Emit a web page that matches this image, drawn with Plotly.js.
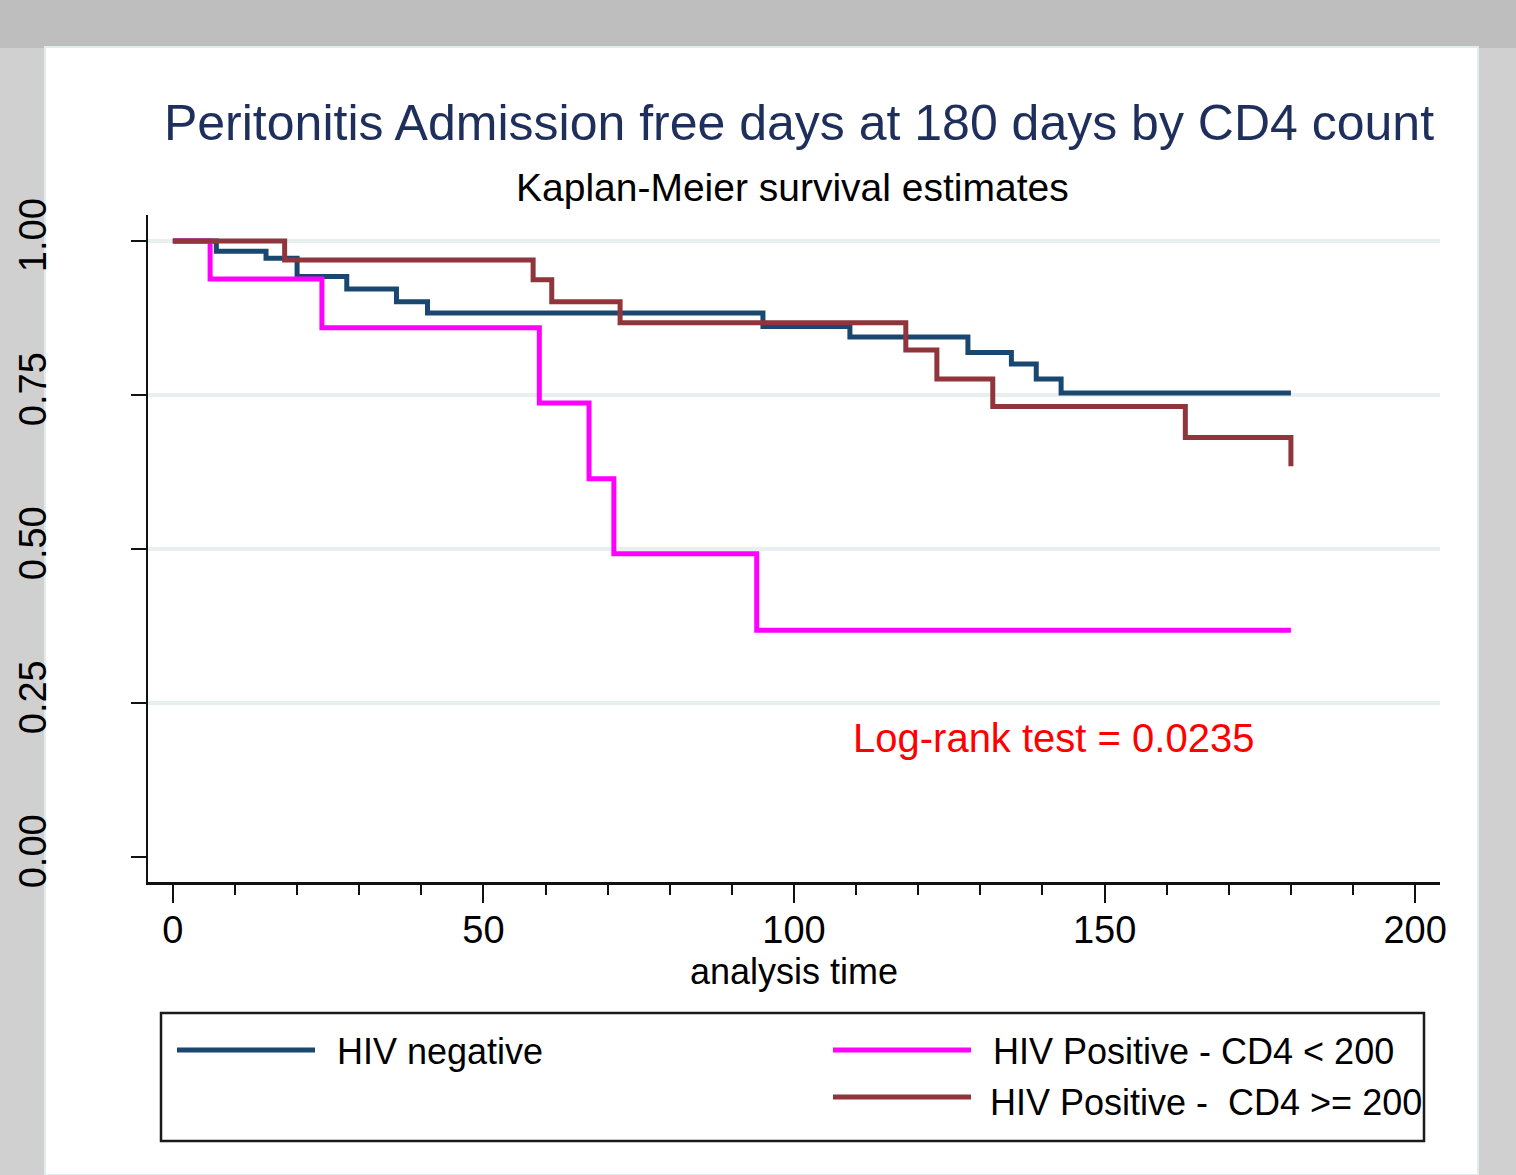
<!DOCTYPE html>
<html><head><meta charset="utf-8">
<script src="https://cdn.plot.ly/plotly-3.0.1.min.js"></script>
<style>html,body{margin:0;padding:0;background:#bebebe;} #chart{width:1516px;height:1175px;}</style>
</head><body><div id="chart"></div>
<script>
// ---- data ----
const seriesNames = ['HIV negative', 'HIV Positive - CD4 < 200', 'HIV Positive -  CD4 >= 200'];
const hivNegTime = [0, 7, 15, 20, 28, 36, 41, 95, 109, 128, 135, 139, 143, 180];
const hivNegSurv = [1, 0.983, 0.972, 0.942, 0.922, 0.901, 0.883, 0.861, 0.844, 0.819, 0.800, 0.776, 0.753, 0.753];
const cd4LowTime = [0, 6, 24, 59, 67, 71, 94, 180];
const cd4LowSurv = [1, 0.938, 0.859, 0.737, 0.614, 0.492, 0.368, 0.368];
const cd4HighTime = [0, 18, 58, 61, 72, 118, 123, 132, 163, 180];
const cd4HighSurv = [1, 0.969, 0.937, 0.901, 0.867, 0.823, 0.776, 0.731, 0.681, 0.634];
const yTickVals = [0, 0.25, 0.5, 0.75, 1];
const yTickText = ['0.00', '0.25', '0.50', '0.75', '1.00'];
const gridVals = [0.25, 0.5, 0.75, 1];
const titleText = 'Peritonitis Admission free days at 180 days by CD4 count';
const subtitleText = 'Kaplan-Meier survival estimates';
const xTitleText = 'analysis time';
const noteText = 'Log-rank test = 0.0235';

// ---- styling ----
const FONT = 'Liberation Sans, Arial, Helvetica, sans-serif';
const colors = ['#1a476f', '#ff00ff', '#90353b'];
const W = 1516, H = 1175;
const M = {l: 148, r: 76, t: 215, b: 293};
const PW = W - M.l - M.r, PH = H - M.t - M.b;
const px2x = p => (p - M.l) / PW;
const py2y = p => (H - M.b - p) / PH;

const times = [hivNegTime, cd4LowTime, cd4HighTime];
const survs = [hivNegSurv, cd4LowSurv, cd4HighSurv];
const traces = seriesNames.map((n, i) => ({
  type: 'scatter', mode: 'lines', name: n,
  x: times[i], y: survs[i],
  line: {shape: 'hv', color: colors[i], width: 5},
  showlegend: false, hoverinfo: 'skip'
}));

const shapes = [];
// white panel
shapes.push({type: 'rect', xref: 'paper', yref: 'paper', layer: 'below',
  x0: px2x(45), x1: px2x(1478), y0: py2y(1175), y1: py2y(47),
  fillcolor: '#ffffff', line: {color: '#e2ecee', width: 2}});
// lighter side strips
shapes.push({type: 'rect', xref: 'paper', yref: 'paper', layer: 'below',
  x0: px2x(0), x1: px2x(44), y0: py2y(1175), y1: py2y(48),
  fillcolor: '#d0d0d0', line: {width: 0}});
shapes.push({type: 'rect', xref: 'paper', yref: 'paper', layer: 'below',
  x0: px2x(1479), x1: px2x(1516), y0: py2y(1175), y1: py2y(48),
  fillcolor: '#d0d0d0', line: {width: 0}});
// gridlines
gridVals.forEach(v => shapes.push({type: 'line', xref: 'paper', yref: 'y', layer: 'below',
  x0: 0, x1: 1, y0: v, y1: v, line: {color: '#e8eff1', width: 4}}));
// legend box
shapes.push({type: 'rect', xref: 'paper', yref: 'paper',
  x0: px2x(161), x1: px2x(1424), y0: py2y(1141), y1: py2y(1013),
  line: {color: '#1a1a1a', width: 2.5}, fillcolor: 'rgba(0,0,0,0)'});
const legendPos = [
  {lx0: 177, lx1: 315, ly: 1050, tx: 335, ty: 1051},
  {lx0: 833, lx1: 971, ly: 1050, tx: 991, ty: 1051},
  {lx0: 833, lx1: 971, ly: 1097, tx: 988, ty: 1102}
];
legendPos.forEach((p, i) => shapes.push({type: 'line', xref: 'paper', yref: 'paper',
  x0: px2x(p.lx0), x1: px2x(p.lx1), y0: py2y(p.ly), y1: py2y(p.ly),
  line: {color: colors[i], width: 5}}));

const annotations = [
  {text: subtitleText, xref: 'paper', yref: 'paper', x: px2x(792), y: py2y(187),
   xanchor: 'center', yanchor: 'middle', showarrow: false, font: {family: FONT, size: 39, color: '#000'}},
  {text: noteText, xref: 'paper', yref: 'paper', x: px2x(1053), y: py2y(738),
   xanchor: 'center', yanchor: 'middle', showarrow: false, font: {family: FONT, size: 40, color: '#ff0000'}}
];
legendPos.forEach((p, i) => annotations.push({text: seriesNames[i].replace(/  /g, ' &nbsp;'),
  xref: 'paper', yref: 'paper', x: px2x(p.tx), y: py2y(p.ty), xanchor: 'left', yanchor: 'middle',
  showarrow: false, font: {family: FONT, size: 36, color: '#000'}}));

const layout = {
  width: W, height: H, margin: M,
  paper_bgcolor: '#bebebe', plot_bgcolor: 'rgba(0,0,0,0)',
  font: {family: FONT, color: '#000'},
  title: {text: titleText, x: 799 / W, xref: 'container', xanchor: 'center',
          y: 1 - 122 / H, yref: 'container', yanchor: 'middle',
          font: {family: FONT, size: 50, color: '#1f2f5c'}},
  xaxis: {range: [-4, 204], tickmode: 'linear', tick0: 0, dtick: 50,
          showline: true, linecolor: '#111', linewidth: 2.5, mirror: false,
          ticks: 'outside', ticklen: 18, tickwidth: 2, tickcolor: '#111',
          ticklabelstandoff: -5,
          showgrid: false, zeroline: false,
          tickfont: {family: FONT, size: 38, color: '#000'},
          minor: {tickmode: 'linear', tick0: 0, dtick: 10, ticks: 'outside', ticklen: 10, tickwidth: 2, tickcolor: '#111', showgrid: false},
          title: {text: xTitleText, standoff: 0, font: {family: FONT, size: 36, color: '#000'}}},
  yaxis: {range: [-0.0406, 1.042], tickmode: 'array', tickvals: yTickVals, ticktext: yTickText,
          showline: true, linecolor: '#111', linewidth: 2.5,
          ticks: 'outside', ticklen: 15, tickwidth: 2, tickcolor: '#111',
          tickangle: -90, ticklabelstandoff: 69,
          showgrid: false, zeroline: false,
          tickfont: {family: FONT, size: 38, color: '#000'}},
  shapes: shapes,
  annotations: annotations,
  showlegend: false
};

Plotly.newPlot('chart', traces, layout, {displayModeBar: false, staticPlot: true});
</script>
</body></html>
